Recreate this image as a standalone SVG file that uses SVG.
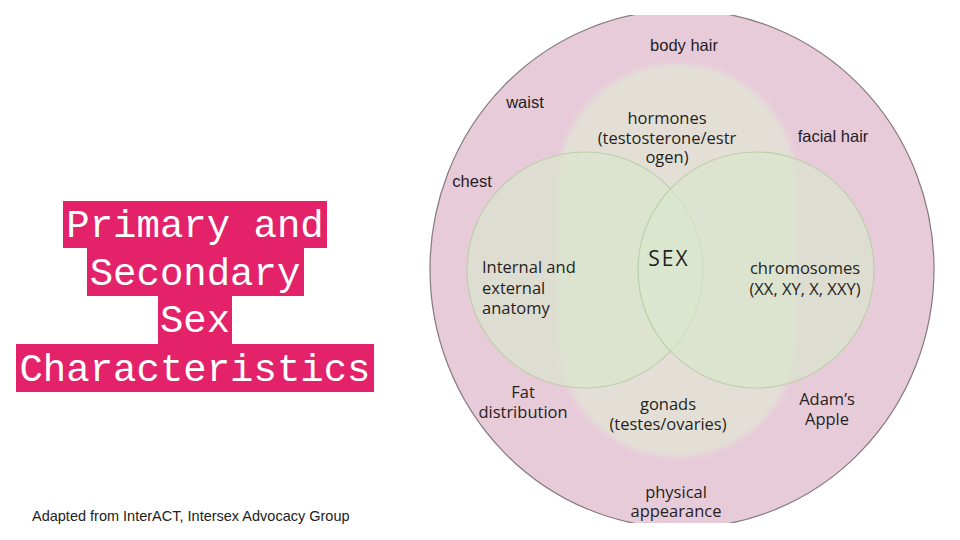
<svg xmlns="http://www.w3.org/2000/svg" width="960" height="540" viewBox="0 0 960 540">
  <defs>
    <clipPath id="crop">
      <rect x="0" y="15" width="960" height="508"/>
    </clipPath>
    <filter id="soft" x="-10%" y="-10%" width="120%" height="120%">
      <feGaussianBlur stdDeviation="2.5"/>
    </filter>
    <style>
      .title-bg { fill: #e3226a; }
      .title { font-family: "Liberation Mono", "DejaVu Sans Mono", monospace; font-size: 39px; fill: #ffffff; text-anchor: middle; }
      .outer-lbl { font-family: "Liberation Sans", Arial, sans-serif; font-size: 16.5px; fill: #231c1f; text-anchor: middle; }
      .lbl { font-family: "Open Sans", "Noto Sans", sans-serif; font-size: 16.5px; fill: #261f22; text-anchor: middle; }
      .left { text-anchor: start; }
      .venn { fill: rgb(216,230,205); fill-opacity: 0.65; stroke: #bccfa9; stroke-width: 1.2; }
      .foot { font-family: "Liberation Sans", Arial, sans-serif; font-size: 14.5px; fill: #222222; }
    </style>
  </defs>

  <rect x="0" y="0" width="960" height="540" fill="#ffffff"/>

  <g id="title">
    <rect class="title-bg" x="63" y="201" width="264" height="47"/>
    <rect class="title-bg" x="87" y="248" width="217" height="48"/>
    <rect class="title-bg" x="158" y="296" width="74" height="48"/>
    <rect class="title-bg" x="16" y="344" width="358" height="48"/>
    <text class="title" x="195" y="237">Primary and</text>
    <text class="title" x="195" y="285">Secondary</text>
    <text class="title" x="195" y="332">Sex</text>
    <text class="title" x="195" y="381">Characteristics</text>
  </g>

  <g id="physical-appearance">
    <g clip-path="url(#crop)">
      <ellipse cx="682" cy="269" rx="252" ry="259" fill="#e8cbd9" stroke="#85797f" stroke-width="1.2"/>
    </g>
    <text class="outer-lbl" x="684" y="51">body hair</text>
    <text class="outer-lbl" x="525" y="108">waist</text>
    <text class="outer-lbl" x="833" y="142">facial hair</text>
    <text class="outer-lbl" x="472" y="187">chest</text>
    <text class="lbl" x="523" y="398">Fat</text>
    <text class="lbl" x="523" y="418">distribution</text>
    <text class="lbl" x="827" y="405">Adam’s</text>
    <text class="lbl" x="827" y="425">Apple</text>
    <text class="lbl" x="676" y="498">physical</text>
    <text class="lbl" x="676" y="517">appearance</text>
  </g>

  <g id="hormones-gonads">
    <rect x="558" y="64" width="238" height="393" rx="119" ry="119" fill="#e3dfd7" filter="url(#soft)"/>
    <text class="lbl" x="667" y="124">hormones</text>
    <text class="lbl" x="667" y="144">(testosterone/estr</text>
    <text class="lbl" x="667" y="163">ogen)</text>
    <text class="lbl" x="668" y="410">gonads</text>
    <text class="lbl" x="668" y="430">(testes/ovaries)</text>
  </g>

  <g id="anatomy">
    <circle class="venn" cx="585" cy="270" r="118"/>
    <text class="lbl left" x="482" y="273">Internal and</text>
    <text class="lbl left" x="482" y="294">external</text>
    <text class="lbl left" x="482" y="314">anatomy</text>
  </g>

  <g id="chromosomes">
    <circle class="venn" cx="756" cy="270" r="118"/>
    <text class="lbl" x="805" y="274">chromosomes</text>
    <text class="lbl" x="805" y="295">(XX, XY, X, XXY)</text>
  </g>

  <g id="sex">
    <text class="lbl" x="669" y="266" style="font-size:21px; letter-spacing:2px">SEX</text>
  </g>

  <g id="connectors"/>

  <g id="footer">
    <text class="foot" x="32" y="521">Adapted from InterACT, Intersex Advocacy Group</text>
  </g>
</svg>
